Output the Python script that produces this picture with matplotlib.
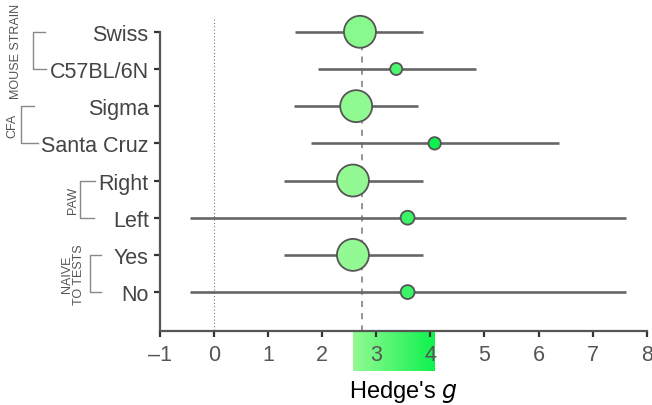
import matplotlib
matplotlib.use('Agg')
import matplotlib.pyplot as plt
import numpy as np
from matplotlib.colors import LinearSegmentedColormap, Normalize

# forest plot of subgroup effect sizes
labels = ['Swiss', 'C57BL/6N', 'Sigma', 'Santa Cruz', 'Right', 'Left', 'Yes', 'No']
effect = [2.70, 3.37, 2.63, 4.08, 2.57, 3.58, 2.57, 3.58]
ci_low = [1.50, 1.92, 1.49, 1.79, 1.30, -0.45, 1.30, -0.45]
ci_high = [3.87, 4.84, 3.78, 6.37, 3.87, 7.61, 3.87, 7.61]
weight = [530, 75, 530, 80, 530, 100, 530, 100]
overall = 2.73
groups = [('MOUSE STRAIN', 0, 1), ('CFA', 2, 3), ('PAW', 4, 5), ('NAIVE\nTO TESTS', 6, 7)]

plt.rcParams['font.family'] = ['Liberation Sans', 'DejaVu Sans']
grey = '#555555'

cmap = LinearSegmentedColormap.from_list('gr', ['#93fa93', '#0ef24e'])
norm = Normalize(min(effect), max(effect))

fig = plt.figure(figsize=(6.52, 4.06), dpi=100)
ax = fig.add_axes([0.245, 0.182, 0.747, 0.783])

y = np.arange(len(labels))
ax.hlines(y, ci_low, ci_high, color='#666666', lw=1.9, zorder=2)
ax.scatter(effect, y, s=weight, c=cmap(norm(effect)), edgecolors=grey,
           linewidths=1.3, zorder=3)
ax.vlines(overall, 0, len(labels) + 1.05, color='#777777', lw=1.1,
          linestyles=(0, (4, 4)), zorder=1)
ax.vlines(0, -0.35, len(labels) + 1.05, color='#777777', lw=0.8,
          linestyles=(0, (1, 2)), zorder=1)

ax.set_xlim(-1, 8)
ax.set_ylim(len(labels) + 0.05, -0.5)
ax.set_yticks(y)
ax.set_yticklabels(labels)
ax.set_xticks(range(-1, 9))
ax.set_xticklabels(['\u20131'] + [str(i) for i in range(0, 9)])
for s in ['top', 'right']:
    ax.spines[s].set_visible(False)
for s in ['left', 'bottom']:
    ax.spines[s].set_color(grey)
    ax.spines[s].set_linewidth(1.6)
ax.spines['left'].set_bounds(0, len(labels) + 0.05)
ax.tick_params(axis='both', colors='#333333', labelcolor='#444444',
               labelsize=15.5, width=1.6, length=4)
ax.tick_params(axis='x', labelcolor='#555555', pad=5)
ax.tick_params(axis='y', pad=4)
ax.set_xlabel("Hedge's $\\mathit{g}$", fontsize=17, labelpad=10, color='black')

# gradient bar under the axis between min and max effect
pos = ax.get_position()
x0 = pos.x0 + pos.width * (min(effect) + 1) / 9
x1 = pos.x0 + pos.width * (max(effect) + 1) / 9
gax = fig.add_axes([x0, 34 / 406, x1 - x0, 40 / 406], zorder=-1)
gax.imshow(np.linspace(0, 1, 256)[None, :], cmap=cmap, aspect='auto')
gax.axis('off')

# group brackets, in figure pixels
bracket_x = [33, 21, 80, 90]
bracket_len = [(12, 13), (13, 17), (15, 14), (11, 11)]
text_x = [16, 12, 73, 73]
trans = matplotlib.transforms.blended_transform_factory(
    matplotlib.transforms.IdentityTransform(), ax.transData)
for (name, a, b), bx, (l1, l2), tx in zip(groups, bracket_x, bracket_len, text_x):
    ax.plot([bx + l1, bx, bx, bx + l2], [a, a, b, b], color='#888888', lw=1.0,
            transform=trans, clip_on=False)
    ax.text(tx, (a + b) / 2, name, transform=trans, rotation=90,
            ha='center', va='center', fontsize=9, color=grey,
            linespacing=0.9, multialignment='center')

fig.savefig('out.png', dpi=100)
